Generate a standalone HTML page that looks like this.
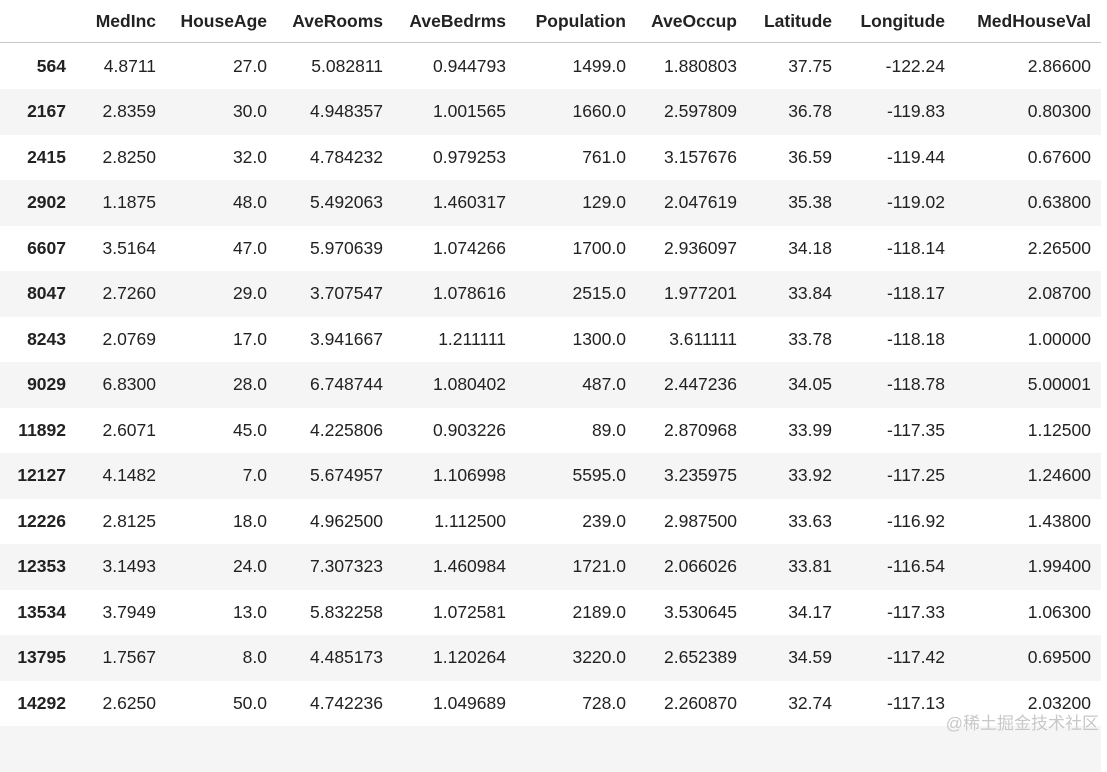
<!DOCTYPE html>
<html><head><meta charset="utf-8"><style>
body{margin:0;width:1107px;height:740px;background:#fff;overflow:hidden;font-family:"Liberation Sans",sans-serif;color:#222;position:relative}
.r{position:absolute;left:0;width:1101px;height:45.5px}
.g{background:#f5f5f5}
.c{position:absolute;top:0;line-height:45.5px;font-size:17.5px;text-align:right;white-space:nowrap}
.h{font-weight:bold;color:#222}
.wm{position:absolute;right:8px;top:709px;font-size:17px;color:#c8c8c8;font-family:"Liberation Sans","Noto Sans CJK SC",sans-serif}
</style></head><body>
<div id="t"></div>
<div class="wm">@稀土掘金技术社区</div>
<script>
const R=[66,156,267,383,506,626,737,832,945,1091];
const H=["","MedInc","HouseAge","AveRooms","AveBedrms","Population","AveOccup","Latitude","Longitude","MedHouseVal"];
const D=[
["564","4.8711","27.0","5.082811","0.944793","1499.0","1.880803","37.75","-122.24","2.86600"],
["2167","2.8359","30.0","4.948357","1.001565","1660.0","2.597809","36.78","-119.83","0.80300"],
["2415","2.8250","32.0","4.784232","0.979253","761.0","3.157676","36.59","-119.44","0.67600"],
["2902","1.1875","48.0","5.492063","1.460317","129.0","2.047619","35.38","-119.02","0.63800"],
["6607","3.5164","47.0","5.970639","1.074266","1700.0","2.936097","34.18","-118.14","2.26500"],
["8047","2.7260","29.0","3.707547","1.078616","2515.0","1.977201","33.84","-118.17","2.08700"],
["8243","2.0769","17.0","3.941667","1.211111","1300.0","3.611111","33.78","-118.18","1.00000"],
["9029","6.8300","28.0","6.748744","1.080402","487.0","2.447236","34.05","-118.78","5.00001"],
["11892","2.6071","45.0","4.225806","0.903226","89.0","2.870968","33.99","-117.35","1.12500"],
["12127","4.1482","7.0","5.674957","1.106998","5595.0","3.235975","33.92","-117.25","1.24600"],
["12226","2.8125","18.0","4.962500","1.112500","239.0","2.987500","33.63","-116.92","1.43800"],
["12353","3.1493","24.0","7.307323","1.460984","1721.0","2.066026","33.81","-116.54","1.99400"],
["13534","3.7949","13.0","5.832258","1.072581","2189.0","3.530645","34.17","-117.33","1.06300"],
["13795","1.7567","8.0","4.485173","1.120264","3220.0","2.652389","34.59","-117.42","0.69500"],
["14292","2.6250","50.0","4.742236","1.049689","728.0","2.260870","32.74","-117.13","2.03200"],
["","","","","","","","","",""]];
let s='<div class="r" style="top:0;height:42px;border-bottom:1.5px solid #c8c8c8">';
H.forEach((h,i)=>{s+=`<div class="c h" style="line-height:42px;right:${1101-R[i]}px">${h}</div>`});
s+='</div>';
D.forEach((row,j)=>{s+=`<div class="r${j%2?' g':''}" style="top:${43.5+j*45.5}px">`;
row.forEach((v,i)=>{s+=`<div class="c${i==0?' h':''}" style="right:${1101-R[i]}px">${v}</div>`});s+='</div>'});
document.getElementById('t').innerHTML=s;
</script>
</body></html>
